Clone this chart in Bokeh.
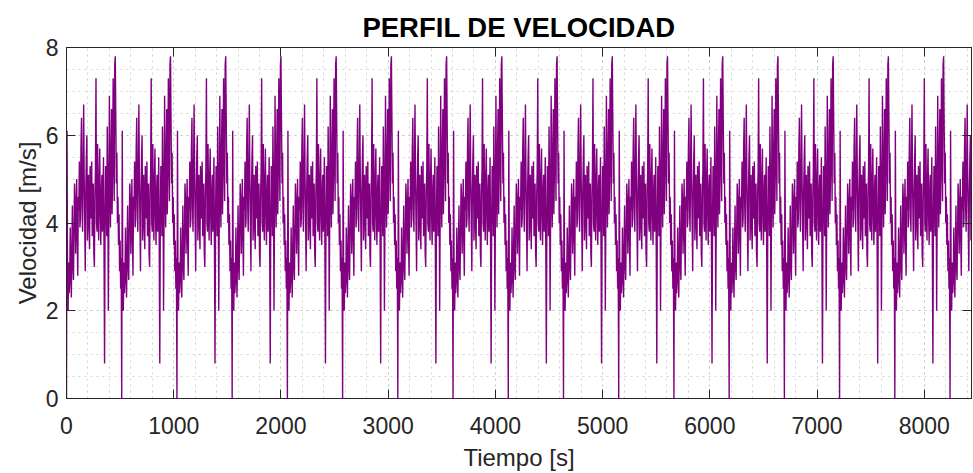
from bokeh.plotting import figure
from bokeh.models import FixedTicker, LinearAxis, Range1d, CustomJSTickFormatter
from bokeh.embed import file_html
from bokeh.resources import INLINE

# One driving cycle (values read every 5 s from the picture); the chart repeats it.
cycle_speed = [
    0.0, 6.1, 2.6, 2.0, 3.1, 2.4, 2.7, 3.9, 2.9, 2.3,
    3.4, 4.4, 3.0, 2.7, 3.8, 4.9, 4.5, 3.3, 4.2, 5.0,
    3.6, 2.8, 4.6, 4.3, 5.4, 3.9, 4.1, 5.7, 6.4, 4.4,
    3.8, 5.2, 6.7, 5.0, 4.0, 2.9, 4.7, 5.5, 6.0, 3.6,
    4.3, 5.1, 3.9, 3.4, 5.3, 4.8, 4.1, 5.4, 3.7, 4.5,
    4.9, 3.3, 3.0, 4.6, 5.2, 7.3, 4.0, 3.8, 5.8, 4.4,
    3.6, 5.0, 5.7, 4.2, 3.5, 4.7, 5.1, 3.8, 4.5, 5.5,
    3.4, 0.8, 4.1, 5.3, 4.6, 3.7, 6.2, 5.0, 2.0, 4.3,
    6.9, 4.8, 3.9, 5.6, 6.6, 4.2, 5.1, 7.3, 6.1, 4.5,
    7.6, 7.8, 6.3, 4.9, 5.6, 4.0, 4.6, 3.5, 4.2, 2.9,
    3.6, 2.5, 3.2,
]
n_full_cycles = 16
tail_points = 41
sample_step = 5  # s

speed = cycle_speed * n_full_cycles + cycle_speed[:tail_points]
time = [i * sample_step for i in range(len(speed))]

x_ticks = [0, 1000, 2000, 3000, 4000, 5000, 6000, 7000, 8000]
x_minor = list(range(0, 8441, 200))
y_ticks = [0, 2, 4, 6, 8]
y_minor = [i * 0.5 for i in range(17)]
x_end = 8440

FONT = "Liberation Sans"
AX = "#262626"

p = figure(width=973, height=473, x_range=Range1d(0, x_end), y_range=Range1d(0, 8),
           output_backend="svg", toolbar_location=None,
           min_border_left=66, min_border_right=2, min_border_top=47, min_border_bottom=73,
           x_axis_label="Tiempo [s]", y_axis_label="Velocidad [m/s]")

p.line(time, speed, line_color="#800080", line_width=1.4)

xt = FixedTicker(ticks=x_ticks, minor_ticks=x_minor)
yt = FixedTicker(ticks=y_ticks, minor_ticks=y_minor)

for ax in p.xaxis:
    ax.ticker = xt
for ax in p.yaxis:
    ax.ticker = yt

for ax in list(p.xaxis) + list(p.yaxis):
    ax.major_tick_in = 9
    ax.major_tick_out = 0
    ax.minor_tick_in = 0
    ax.minor_tick_out = 0
    ax.axis_line_color = AX
    ax.major_tick_line_color = AX
    ax.major_label_text_font = FONT
    ax.major_label_text_font_size = "23px"
    ax.major_label_text_color = AX
    ax.axis_label_text_font = FONT
    ax.axis_label_text_font_size = "24px"
    ax.axis_label_text_font_style = "normal"
    ax.axis_label_text_color = AX

p.xaxis.major_label_standoff = 18
p.xaxis.axis_label_standoff = 7
p.yaxis.major_label_standoff = 8
p.yaxis.axis_label_standoff = 2

blank = CustomJSTickFormatter(code="return ''")
top = LinearAxis(ticker=xt, formatter=blank, major_tick_in=9, major_tick_out=0,
                 minor_tick_in=0, minor_tick_out=0, major_label_standoff=0,
                 axis_line_color=AX, major_tick_line_color=AX)
right = LinearAxis(ticker=yt, formatter=blank, major_tick_in=9, major_tick_out=0,
                   minor_tick_in=0, minor_tick_out=0, major_label_standoff=0,
                   axis_line_color=AX, major_tick_line_color=AX)
p.add_layout(top, "above")
p.add_layout(right, "right")

for g in (p.xgrid, p.ygrid):
    g.grid_line_color = "#c8c8c8"
    g.grid_line_dash = "dotted"
    g.grid_line_width = 1
    g.minor_grid_line_color = "#d4d4d4"
    g.minor_grid_line_dash = "dotted"
    g.minor_grid_line_width = 1
p.xgrid.ticker = xt
p.ygrid.ticker = yt

p.outline_line_color = AX
p.title.text = "PERFIL DE VELOCIDAD"
p.title.text_font = FONT
p.title.text_font_size = "27.5px"
p.title.text_font_style = "bold"
p.title.text_color = "#000000"
p.title.align = "center"
p.title.standoff = 9

open("out.html", "w").write(file_html(p, INLINE))
